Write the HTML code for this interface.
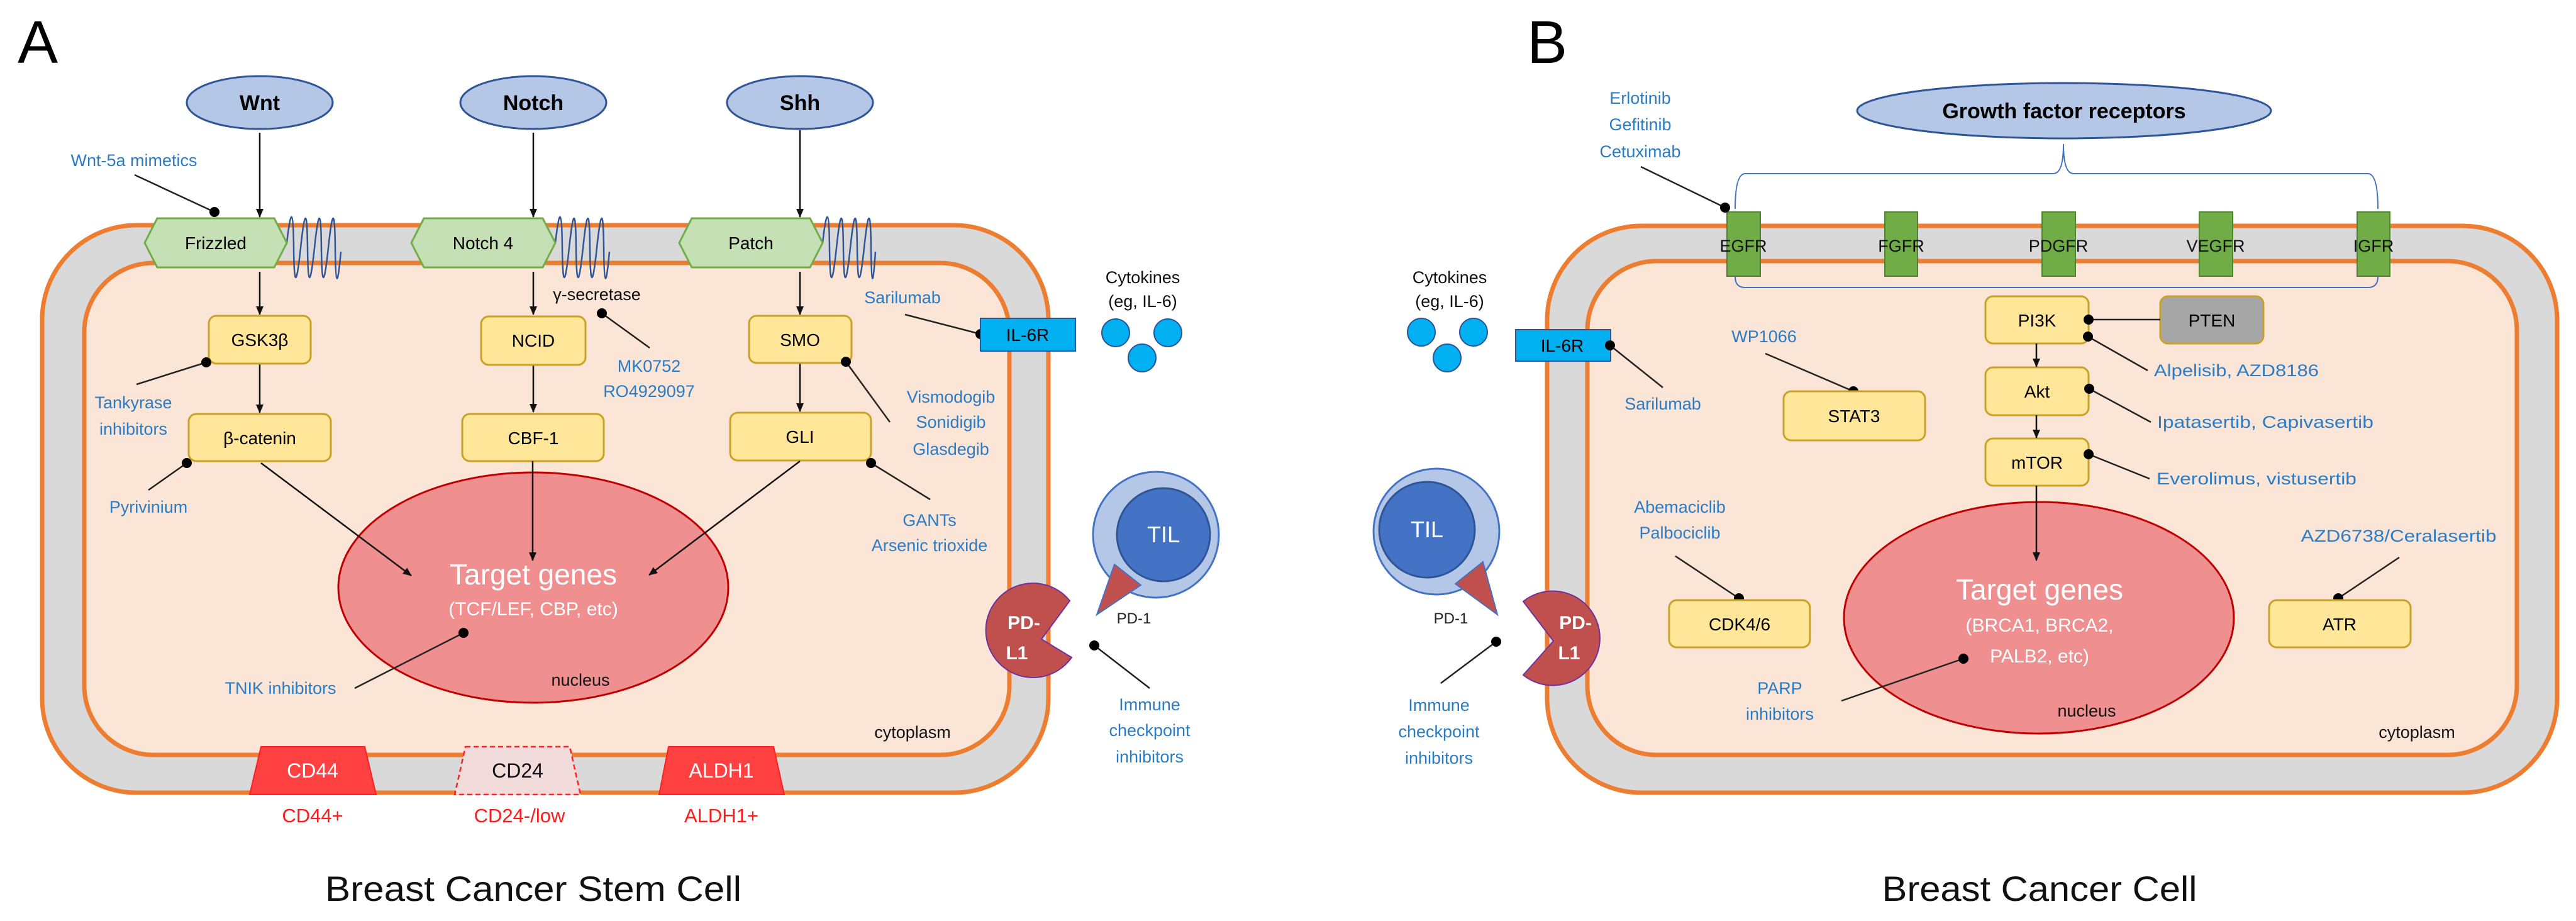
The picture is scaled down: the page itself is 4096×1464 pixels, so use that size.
<!DOCTYPE html>
<html><head><meta charset="utf-8"><style>
html,body{margin:0;padding:0;background:#fff;}
svg{display:block;}
text{font-family:"Liberation Sans",sans-serif;}
.b{fill:#2a7cc7;font-size:27px;}
.k{fill:#111;font-size:27px;}
.w{fill:#fff;}
.ln{stroke:#222;stroke-width:2.5;fill:none;}
.ar{stroke:#111;stroke-width:2.5;fill:none;marker-end:url(#ah);}
.dot{fill:#000;}
.box{fill:#ffe699;stroke:#c9a227;stroke-width:3;}
.hex{fill:#c5e0b4;stroke:#70ad47;stroke-width:3;}
.rec{fill:#70ad47;stroke:#548235;stroke-width:2;}
</style></head><body>
<svg width="4096" height="1464" viewBox="0 0 4096 1464" xmlns="http://www.w3.org/2000/svg">
<defs>
<marker id="ah" markerWidth="14" markerHeight="12" refX="13" refY="6" orient="auto" markerUnits="userSpaceOnUse">
<path d="M0,0 L14,6 L0,12 Z" fill="#111"/></marker>
</defs>

<text x="28" y="100" font-size="96" fill="#000">A</text>
<text x="2428" y="100" font-size="96" fill="#000">B</text>

<rect x="67" y="358" width="1600" height="902" rx="150" fill="#d9d9d9" stroke="#ed7d31" stroke-width="7"/>
<rect x="134" y="418" width="1471" height="782" rx="110" fill="#fbe5d6" stroke="#ed7d31" stroke-width="7"/>

<ellipse cx="413" cy="163" rx="116" ry="42" fill="#b4c7e7" stroke="#2f5597" stroke-width="3"/>
<text x="413" y="175" font-size="34" font-weight="bold" text-anchor="middle">Wnt</text>
<ellipse cx="848" cy="163" rx="116" ry="42" fill="#b4c7e7" stroke="#2f5597" stroke-width="3"/>
<text x="848" y="175" font-size="34" font-weight="bold" text-anchor="middle">Notch</text>
<ellipse cx="1272" cy="163" rx="116" ry="42" fill="#b4c7e7" stroke="#2f5597" stroke-width="3"/>
<text x="1272" y="175" font-size="34" font-weight="bold" text-anchor="middle">Shh</text>

<path d="M456,386 Q466,300 467,394 Q468,488 478,394 Q488,300 489,394 Q490,488 500,394 Q510,300 511,394 Q512,488 522,394 Q532,300 533,394 Q534,488 542,400" fill="none" stroke="#2f5597" stroke-width="2.5"/>
<path d="M883,386 Q893,300 894,394 Q895,488 905,394 Q915,300 916,394 Q917,488 927,394 Q937,300 938,394 Q939,488 949,394 Q959,300 960,394 Q961,488 969,400" fill="none" stroke="#2f5597" stroke-width="2.5"/>
<path d="M1308,386 Q1318,300 1319,394 Q1320,488 1330,394 Q1340,300 1341,394 Q1342,488 1352,394 Q1362,300 1363,394 Q1364,488 1374,394 Q1384,300 1385,394 Q1386,488 1392,400" fill="none" stroke="#2f5597" stroke-width="2.5"/>

<polygon class="hex" points="230,386 250,347 436,347 456,386 436,425 250,425"/>
<text x="343" y="396" font-size="28" text-anchor="middle">Frizzled</text>
<polygon class="hex" points="654,386 674,347 863,347 883,386 863,425 674,425"/>
<text x="768" y="396" font-size="28" text-anchor="middle">Notch 4</text>
<polygon class="hex" points="1080,386 1100,347 1288,347 1308,386 1288,425 1100,425"/>
<text x="1194" y="396" font-size="28" text-anchor="middle">Patch</text>

<line class="ar" x1="413" y1="211" x2="413" y2="345"/>
<line class="ar" x1="848" y1="211" x2="848" y2="345"/>
<line class="ar" x1="1272" y1="207" x2="1272" y2="345"/>
<line class="ar" x1="413" y1="432" x2="413" y2="500"/>
<line class="ar" x1="848" y1="432" x2="848" y2="500"/>
<line class="ar" x1="1272" y1="432" x2="1272" y2="500"/>
<line class="ar" x1="413" y1="578" x2="413" y2="656"/>
<line class="ar" x1="848" y1="580" x2="848" y2="655"/>
<line class="ar" x1="1272" y1="577" x2="1272" y2="654"/>

<rect class="box" x="332" y="502" width="162" height="76" rx="12"/>
<text x="413" y="550" font-size="28" text-anchor="middle">GSK3β</text>
<rect class="box" x="300" y="658" width="226" height="75" rx="12"/>
<text x="413" y="706" font-size="28" text-anchor="middle">β-catenin</text>
<rect class="box" x="765" y="503" width="166" height="77" rx="12"/>
<text x="848" y="551" font-size="28" text-anchor="middle">NCID</text>
<rect class="box" x="735" y="658" width="225" height="75" rx="12"/>
<text x="848" y="706" font-size="28" text-anchor="middle">CBF-1</text>
<rect class="box" x="1191" y="502" width="163" height="75" rx="12"/>
<text x="1272" y="550" font-size="28" text-anchor="middle">SMO</text>
<rect class="box" x="1161" y="656" width="224" height="76" rx="12"/>
<text x="1272" y="704" font-size="28" text-anchor="middle">GLI</text>

<ellipse cx="848" cy="934" rx="310" ry="183" fill="#f08f8f" stroke="#c00000" stroke-width="3"/>
<text x="848" y="929" font-size="46" text-anchor="middle" class="w">Target genes</text>
<text x="848" y="978" font-size="30" text-anchor="middle" class="w">(TCF/LEF, CBP, etc)</text>
<text x="923" y="1090" class="k" text-anchor="middle" font-size="26">nucleus</text>
<line class="ar" x1="415" y1="736" x2="654" y2="915"/>
<line class="ar" x1="847" y1="733" x2="847" y2="891"/>
<line class="ar" x1="1272" y1="733" x2="1032" y2="914"/>

<text x="213" y="264" class="b" text-anchor="middle">Wnt-5a mimetics</text>
<line class="ln" x1="214" y1="278" x2="341" y2="337"/><circle class="dot" cx="341" cy="337" r="8"/>
<text x="212" y="649" class="b" text-anchor="middle">Tankyrase</text>
<text x="212" y="691" class="b" text-anchor="middle">inhibitors</text>
<line class="ln" x1="217" y1="611" x2="328" y2="576"/><circle class="dot" cx="328" cy="576" r="8"/>
<text x="236" y="815" class="b" text-anchor="middle">Pyrivinium</text>
<line class="ln" x1="236" y1="779" x2="297" y2="736"/><circle class="dot" cx="297" cy="736" r="8"/>
<text x="949" y="477" class="k" text-anchor="middle">γ-secretase</text>
<line class="ln" x1="957" y1="498" x2="1033" y2="553"/><circle class="dot" cx="957" cy="498" r="8"/>
<text x="1032" y="591" class="b" text-anchor="middle">MK0752</text>
<text x="1032" y="631" class="b" text-anchor="middle">RO4929097</text>
<text x="1435" y="482" class="b" text-anchor="middle">Sarilumab</text>
<line class="ln" x1="1439" y1="500" x2="1559" y2="531"/><circle class="dot" cx="1559" cy="531" r="8"/>
<rect x="1559" y="506" width="151" height="52" fill="#00b0f0" stroke="#2f5597" stroke-width="2"/>
<text x="1634" y="542" font-size="28" text-anchor="middle">IL-6R</text>
<text x="1817" y="450" class="k" text-anchor="middle" font-size="25">Cytokines</text>
<text x="1817" y="488" class="k" text-anchor="middle" font-size="25">(eg, IL-6)</text>
<circle cx="1774" cy="529" r="22" fill="#00b0f0" stroke="#2f5597" stroke-width="2"/>
<circle cx="1857" cy="529" r="22" fill="#00b0f0" stroke="#2f5597" stroke-width="2"/>
<circle cx="1816" cy="569" r="22" fill="#00b0f0" stroke="#2f5597" stroke-width="2"/>
<line class="ln" x1="1345" y1="575" x2="1415" y2="671"/><circle class="dot" cx="1345" cy="575" r="8"/>
<text x="1512" y="640" class="b" text-anchor="middle">Vismodogib</text>
<text x="1512" y="680" class="b" text-anchor="middle">Sonidigib</text>
<text x="1512" y="723" class="b" text-anchor="middle">Glasdegib</text>
<line class="ln" x1="1385" y1="736" x2="1479" y2="794"/><circle class="dot" cx="1385" cy="736" r="8"/>
<text x="1478" y="836" class="b" text-anchor="middle">GANTs</text>
<text x="1478" y="876" class="b" text-anchor="middle">Arsenic trioxide</text>
<line class="ln" x1="737" y1="1006" x2="564" y2="1094"/><circle class="dot" cx="737" cy="1006" r="8"/>
<text x="446" y="1103" class="b" text-anchor="middle">TNIK inhibitors</text>
<text x="1451" y="1173" class="k" text-anchor="middle">cytoplasm</text>

<polygon points="415,1187 580,1187 598,1263 397,1263" fill="#ff4141" stroke="#ff2020" stroke-width="2"/>
<text x="497" y="1236" font-size="32" text-anchor="middle" class="w">CD44</text>
<polygon points="740,1187 906,1187 923,1263 723,1263" fill="#f2dcdb" stroke="#ff2020" stroke-width="2.5" stroke-dasharray="8,5"/>
<text x="823" y="1236" font-size="32" text-anchor="middle" fill="#111">CD24</text>
<polygon points="1063,1187 1230,1187 1247,1263 1048,1263" fill="#ff4141" stroke="#ff2020" stroke-width="2"/>
<text x="1147" y="1236" font-size="32" text-anchor="middle" class="w">ALDH1</text>
<text x="497" y="1307" font-size="31" text-anchor="middle" fill="#ff1a1a">CD44+</text>
<text x="826" y="1307" font-size="31" text-anchor="middle" fill="#ff1a1a">CD24-/low</text>
<text x="1147" y="1307" font-size="31" text-anchor="middle" fill="#ff1a1a">ALDH1+</text>

<path d="M1656,1016 L1701,955 A75,75 0 1 0 1704,1045 Z" fill="#c0504d" stroke="#7030a0" stroke-width="2"/>
<text x="1628" y="1000" font-size="30" font-weight="bold" class="w" text-anchor="middle">PD-</text>
<text x="1617" y="1048" font-size="30" font-weight="bold" class="w" text-anchor="middle">L1</text>
<circle cx="1838" cy="850" r="100" fill="#b4c7e7" stroke="#4472c4" stroke-width="3"/>
<circle cx="1850" cy="850" r="74" fill="#4472c4" stroke="#2f5597" stroke-width="3"/>
<text x="1850" y="862" font-size="36" class="w" text-anchor="middle">TIL</text>
<polygon points="1814,930 1772,897 1744,977" fill="#c0504d" stroke="#4472c4" stroke-width="2"/>
<text x="1803" y="991" font-size="24" text-anchor="middle" fill="#222">PD-1</text>
<line class="ln" x1="1740" y1="1026" x2="1828" y2="1094"/><circle class="dot" cx="1740" cy="1026" r="8"/>
<text x="1828" y="1129" class="b" text-anchor="middle">Immune</text>
<text x="1828" y="1170" class="b" text-anchor="middle">checkpoint</text>
<text x="1828" y="1212" class="b" text-anchor="middle">inhibitors</text>

<text x="848" y="1432" font-size="56" text-anchor="middle" fill="#111" textLength="662" lengthAdjust="spacingAndGlyphs">Breast Cancer Stem Cell</text>

<rect x="2460" y="359" width="1606" height="901" rx="150" fill="#d9d9d9" stroke="#ed7d31" stroke-width="7"/>
<rect x="2524" y="415" width="1478" height="785" rx="110" fill="#fbe5d6" stroke="#ed7d31" stroke-width="7"/>

<ellipse cx="3282" cy="176" rx="329" ry="44" fill="#b4c7e7" stroke="#2f5597" stroke-width="3"/>
<text x="3282" y="188" font-size="34" font-weight="bold" text-anchor="middle">Growth factor receptors</text>
<path d="M2759,332 Q2759,276 2775,276 L3265,276 Q3281,276 3281,229 Q3281,276 3297,276 L3765,276 Q3781,276 3781,332" fill="none" stroke="#4472c4" stroke-width="2"/>
<path d="M2759,440 Q2759,457 2775,457 L3765,457 Q3781,457 3781,440" fill="none" stroke="#4472c4" stroke-width="2"/>

<rect class="rec" x="2746" y="337" width="53" height="102"/>
<rect class="rec" x="2997" y="337" width="52" height="102"/>
<rect class="rec" x="3247" y="337" width="53" height="102"/>
<rect class="rec" x="3497" y="337" width="53" height="102"/>
<rect class="rec" x="3748" y="337" width="52" height="102"/>
<text x="2772" y="400" font-size="27" text-anchor="middle" fill="#111">EGFR</text>
<text x="3023" y="400" font-size="27" text-anchor="middle" fill="#111">FGFR</text>
<text x="3273" y="400" font-size="27" text-anchor="middle" fill="#111">PDGFR</text>
<text x="3523" y="400" font-size="27" text-anchor="middle" fill="#111">VEGFR</text>
<text x="3774" y="400" font-size="27" text-anchor="middle" fill="#111">IGFR</text>

<text x="2608" y="165" class="b" text-anchor="middle">Erlotinib</text>
<text x="2608" y="207" class="b" text-anchor="middle">Gefitinib</text>
<text x="2608" y="250" class="b" text-anchor="middle">Cetuximab</text>
<line class="ln" x1="2609" y1="265" x2="2743" y2="330"/><circle class="dot" cx="2743" cy="330" r="8"/>

<text x="2305" y="450" class="k" text-anchor="middle" font-size="25">Cytokines</text>
<text x="2305" y="488" class="k" text-anchor="middle" font-size="25">(eg, IL-6)</text>
<circle cx="2260" cy="528" r="22" fill="#00b0f0" stroke="#2f5597" stroke-width="2"/>
<circle cx="2343" cy="528" r="22" fill="#00b0f0" stroke="#2f5597" stroke-width="2"/>
<circle cx="2301" cy="569" r="22" fill="#00b0f0" stroke="#2f5597" stroke-width="2"/>
<rect x="2410" y="524" width="151" height="50" fill="#00b0f0" stroke="#2f5597" stroke-width="2"/>
<text x="2484" y="559" font-size="28" text-anchor="middle">IL-6R</text>
<line class="ln" x1="2560" y1="549" x2="2644" y2="616"/><circle class="dot" cx="2560" cy="549" r="8"/>
<text x="2644" y="651" class="b" text-anchor="middle">Sarilumab</text>

<text x="2805" y="544" class="b" text-anchor="middle">WP1066</text>
<line class="ln" x1="2807" y1="562" x2="2947" y2="622"/><circle class="dot" cx="2947" cy="622" r="8"/>
<rect class="box" x="2836" y="622" width="225" height="78" rx="12"/>
<text x="2948" y="671" font-size="28" text-anchor="middle">STAT3</text>

<rect class="box" x="3157" y="471" width="164" height="75" rx="12"/>
<text x="3239" y="519" font-size="28" text-anchor="middle">PI3K</text>
<rect x="3435" y="471" width="164" height="75" rx="12" fill="#a6a6a6" stroke="#c9a227" stroke-width="3"/>
<text x="3517" y="519" font-size="28" text-anchor="middle">PTEN</text>
<line class="ln" x1="3321" y1="508" x2="3435" y2="508"/><circle class="dot" cx="3321" cy="508" r="8"/>
<line class="ln" x1="3320" y1="535" x2="3415" y2="589"/><circle class="dot" cx="3320" cy="535" r="8"/>
<text x="3425" y="598" class="b" textLength="262" lengthAdjust="spacingAndGlyphs">Alpelisib, AZD8186</text>
<rect class="box" x="3157" y="584" width="164" height="76" rx="12"/>
<text x="3239" y="632" font-size="28" text-anchor="middle">Akt</text>
<line class="ln" x1="3322" y1="618" x2="3420" y2="671"/><circle class="dot" cx="3322" cy="618" r="8"/>
<text x="3430" y="680" class="b" textLength="344" lengthAdjust="spacingAndGlyphs">Ipatasertib, Capivasertib</text>
<rect class="box" x="3157" y="697" width="164" height="75" rx="12"/>
<text x="3239" y="745" font-size="28" text-anchor="middle">mTOR</text>
<line class="ln" x1="3321" y1="722" x2="3418" y2="761"/><circle class="dot" cx="3321" cy="722" r="8"/>
<text x="3429" y="770" class="b" textLength="318" lengthAdjust="spacingAndGlyphs">Everolimus, vistusertib</text>
<line class="ar" x1="3238" y1="546" x2="3238" y2="583"/>
<line class="ar" x1="3238" y1="660" x2="3238" y2="696"/>

<ellipse cx="3242" cy="982" rx="310" ry="184" fill="#f08f8f" stroke="#c00000" stroke-width="3"/>
<line class="ar" x1="3238" y1="772" x2="3238" y2="891"/>
<text x="3243" y="953" font-size="46" text-anchor="middle" class="w">Target genes</text>
<text x="3243" y="1004" font-size="30" text-anchor="middle" class="w">(BRCA1, BRCA2,</text>
<text x="3243" y="1053" font-size="30" text-anchor="middle" class="w">PALB2, etc)</text>
<text x="3318" y="1139" class="k" text-anchor="middle" font-size="26">nucleus</text>
<line class="ln" x1="2928" y1="1114" x2="3122" y2="1047"/><circle class="dot" cx="3122" cy="1047" r="8"/>
<text x="2830" y="1103" class="b" text-anchor="middle">PARP</text>
<text x="2830" y="1144" class="b" text-anchor="middle">inhibitors</text>

<text x="2671" y="815" class="b" text-anchor="middle">Abemaciclib</text>
<text x="2671" y="856" class="b" text-anchor="middle">Palbociclib</text>
<line class="ln" x1="2664" y1="884" x2="2765" y2="951"/><circle class="dot" cx="2765" cy="951" r="8"/>
<rect class="box" x="2654" y="954" width="224" height="75" rx="12"/>
<text x="2766" y="1002" font-size="28" text-anchor="middle">CDK4/6</text>

<text x="3814" y="861" class="b" text-anchor="middle" textLength="311" lengthAdjust="spacingAndGlyphs">AZD6738/Ceralasertib</text>
<line class="ln" x1="3815" y1="886" x2="3718" y2="951"/><circle class="dot" cx="3718" cy="951" r="8"/>
<rect class="box" x="3608" y="954" width="225" height="75" rx="12"/>
<text x="3720" y="1002" font-size="28" text-anchor="middle">ATR</text>
<text x="3843" y="1173" class="k" text-anchor="middle">cytoplasm</text>

<path d="M2470,1019 L2422,956 A75,75 0 1 1 2422,1073 Z" fill="#c0504d" stroke="#7030a0" stroke-width="2"/>
<text x="2505" y="1000" font-size="30" font-weight="bold" class="w" text-anchor="middle">PD-</text>
<text x="2495" y="1048" font-size="30" font-weight="bold" class="w" text-anchor="middle">L1</text>
<circle cx="2284" cy="845" r="100" fill="#b4c7e7" stroke="#4472c4" stroke-width="3"/>
<circle cx="2269" cy="842" r="76" fill="#4472c4" stroke="#2f5597" stroke-width="3"/>
<text x="2269" y="854" font-size="36" class="w" text-anchor="middle">TIL</text>
<polygon points="2314,928 2358,893 2381,977" fill="#c0504d" stroke="#4472c4" stroke-width="2"/>
<text x="2307" y="991" font-size="24" text-anchor="middle" fill="#222">PD-1</text>
<line class="ln" x1="2379" y1="1020" x2="2291" y2="1086"/><circle class="dot" cx="2379" cy="1020" r="8"/>
<text x="2288" y="1130" class="b" text-anchor="middle">Immune</text>
<text x="2288" y="1172" class="b" text-anchor="middle">checkpoint</text>
<text x="2288" y="1214" class="b" text-anchor="middle">inhibitors</text>

<text x="3243" y="1432" font-size="56" text-anchor="middle" fill="#111" textLength="501" lengthAdjust="spacingAndGlyphs">Breast Cancer Cell</text>
</svg>
</body></html>
